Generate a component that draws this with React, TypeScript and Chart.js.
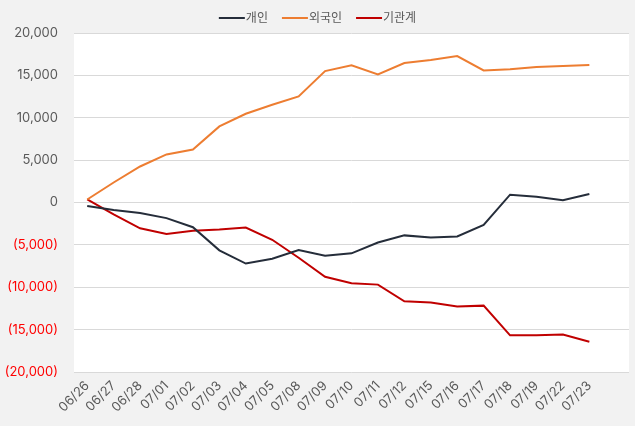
import React, { useEffect, useRef } from "react";
import { Chart, registerables } from "chart.js";

Chart.register(...registerables);

const categories = [
  "06/26", "06/27", "06/28", "07/01", "07/02", "07/03", "07/04", "07/05", "07/08", "07/09",
  "07/10", "07/11", "07/12", "07/15", "07/16", "07/17", "07/18", "07/19", "07/22", "07/23",
];

const individual = [
  -400, -880, -1240, -1840, -2920, -5640, -7200, -6640, -5600, -6280,
  -6000, -4720, -3880, -4120, -4000, -2640, 920, 680, 280, 1000,
];

const foreign = [
  350, 2360, 4250, 5670, 6260, 8980, 10470, 11540, 12520, 15510,
  16200, 15120, 16460, 16810, 17280, 15590, 15710, 15980, 16100, 16220,
];

const institution = [
  360, -1400, -3040, -3720, -3320, -3200, -2960, -4400, -6520, -8760,
  -9530, -9690, -11650, -11810, -12280, -12170, -15670, -15670, -15590, -16420,
];

const seriesNames = ["개인", "외국인", "기관계"];
const seriesColors = ["#252d3a", "#ed7d31", "#c00000"];

const yMin = -20000;
const yMax = 20000;
const yStep = 5000;

const FONT = "Inter, 'Noto Sans CJK KR', sans-serif";

const bgPlugin = {
  id: "bgPlugin",
  beforeDraw(chart: any) {
    const { ctx, chartArea } = chart;
    ctx.save();
    ctx.fillStyle = "#f2f2f2";
    ctx.fillRect(0, 0, chart.width, chart.height);
    ctx.fillStyle = "#ffffff";
    ctx.fillRect(chartArea.left, chartArea.top, chartArea.right - chartArea.left, chartArea.bottom - chartArea.top);
    ctx.restore();
  },
};

const legendPlugin = {
  id: "customLegend",
  afterDraw(chart: any) {
    const { ctx } = chart;
    const ds = chart.data.datasets;
    const lineLen = 26;
    const gapText = 1;
    const gapItem = 14;
    ctx.save();
    ctx.font = "12px " + FONT;
    const widths = ds.map((d: any) => lineLen + gapText + ctx.measureText(d.label).width);
    const total = widths.reduce((a: number, b: number) => a + b, 0) + gapItem * (ds.length - 1);
    let x = chart.width / 2 - total / 2;
    const y = 18;
    ds.forEach((d: any, i: number) => {
      ctx.strokeStyle = d.borderColor;
      ctx.lineWidth = 2;
      ctx.beginPath();
      ctx.moveTo(x, y);
      ctx.lineTo(x + lineLen, y);
      ctx.stroke();
      ctx.fillStyle = "#595959";
      ctx.textBaseline = "middle";
      ctx.textAlign = "left";
      ctx.fillText(d.label, x + lineLen + gapText, y);
      x += widths[i] + gapItem;
    });
    ctx.restore();
  },
};

function formatTick(v: number) {
  const s = Math.abs(v).toLocaleString("en-US");
  return v < 0 ? "(" + s + ")" : s;
}

export default function App() {
  const ref = useRef<HTMLCanvasElement | null>(null);

  useEffect(() => {
    document.body.style.margin = "0";
    const canvas = ref.current;
    if (!canvas) return;
    const data = [individual, foreign, institution];
    const chart = new Chart(canvas, {
      type: "line",
      data: {
        labels: [...categories, ""],
        datasets: seriesNames.map((name, i) => ({
          label: name,
          data: data[i],
          borderColor: seriesColors[i],
          backgroundColor: seriesColors[i],
          borderWidth: 2,
          pointRadius: 0,
          tension: 0,
          fill: false,
        })),
      },
      options: {
        animation: false,
        responsive: false,
        maintainAspectRatio: false,
        layout: { padding: { top: 33, right: 6, left: 0, bottom: 0 } },
        plugins: {
          legend: { display: false },
          tooltip: { enabled: false },
        },
        scales: {
          x: {
            offset: true,
            grid: { display: false, drawTicks: false },
            border: { display: false },
            ticks: {
              autoSkip: false,
              minRotation: 45,
              maxRotation: 45,
              padding: 6,
              color: "#595959",
              font: { family: FONT, size: 13 },
            },
            afterFit(scale: any) {
              scale.height = 54;
            },
          },
          y: {
            min: yMin,
            max: yMax,
            grid: { color: "#d9d9d9", lineWidth: 1, drawTicks: false },
            border: { display: false },
            ticks: {
              stepSize: yStep,
              padding: 16,
              color: (c: any) => (c.tick && c.tick.value < 0 ? "#ff0000" : "#595959"),
              font: { family: FONT, size: 13 },
              callback: (v: any) => formatTick(Number(v)),
            },
            afterFit(scale: any) {
              scale.width = 74;
            },
          },
        },
      },
      plugins: [bgPlugin, legendPlugin],
    });
    return () => chart.destroy();
  }, []);

  return (
    <div style={{ width: 635, height: 426 }}>
      <canvas ref={ref} width={635} height={426} style={{ display: "block" }} />
    </div>
  );
}
